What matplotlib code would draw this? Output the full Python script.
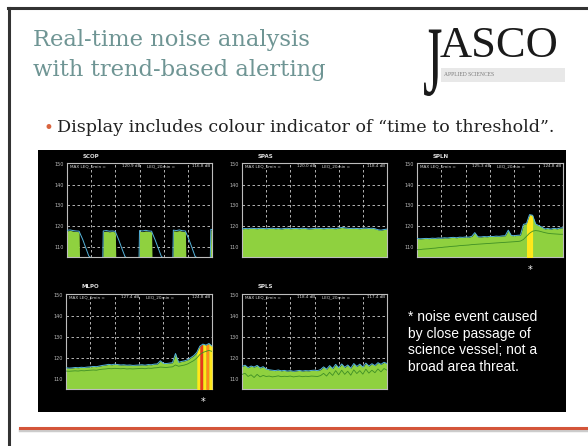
import matplotlib
matplotlib.use("Agg")
import matplotlib.pyplot as plt
import numpy as np
from matplotlib.patches import Rectangle, PathPatch
from matplotlib.lines import Line2D
from matplotlib.textpath import TextPath
from matplotlib.font_manager import FontProperties
from matplotlib.transforms import Affine2D

# ---- data (dB re 1 uPa) ----
hours = np.arange(49) * 0.5          # 0 .. 24 h in half-hour steps

scop_t = [0.0, 0.5, 1.0, 1.5, 2.0, 2.1, 2.6, 3.1, 3.6, 5.9,
          6.0, 6.5, 7.0, 7.5, 8.0, 8.1, 8.6, 9.1, 9.6, 11.9,
          12.0, 12.5, 13.0, 13.5, 14.0, 14.1, 14.6, 15.1, 15.6, 17.5,
          17.6, 18.1, 18.6, 19.1, 19.6, 19.7, 20.2, 20.7, 21.2, 23.7,
          23.8, 24.0]
scop_lvl = [117.6, 117.9, 117.5, 117.4, 117.2, 100, 100, 100, 100, 100,
            117.3, 117.5, 117.2, 117.4, 117.1, 100, 100, 100, 100, 100,
            117.5, 117.3, 117.6, 117.4, 117.2, 100, 100, 100, 100, 100,
            117.7, 117.5, 117.8, 117.4, 117.3, 100, 100, 100, 100, 100,
            118.2, 118.0]
scop_tail = [117.9, 118.1, 117.8, 117.6, 117.5, 116.8, 113.5, 109.5, 105.5, 100,
             117.6, 117.8, 117.5, 117.6, 117.4, 116.6, 113.0, 109.0, 105.2, 100,
             117.8, 117.6, 117.9, 117.6, 117.5, 116.7, 113.2, 109.3, 105.4, 100,
             118.0, 117.8, 118.1, 117.7, 117.6, 116.8, 113.4, 109.4, 105.3, 100,
             118.4, 118.3]

spas_lvl = [118.6, 118.8, 118.7, 118.9, 118.8, 118.7, 118.9, 118.8, 118.7, 118.8,
            118.9, 118.7, 118.8, 118.6, 118.8, 118.9, 118.7, 118.8, 118.8, 118.7,
            118.9, 118.8, 118.6, 118.7, 118.8, 118.9, 118.8, 118.7, 118.8, 118.9,
            118.8, 118.7, 119.0, 119.3, 119.1, 118.9, 118.8, 118.9, 118.8, 118.7,
            118.9, 119.0, 118.8, 118.9, 118.7, 118.2, 118.0, 118.3, 118.5]

spln_lvl = [114.0, 113.8, 113.9, 114.0, 113.9, 114.1, 114.0, 114.2, 114.1, 114.3,
            114.2, 114.4, 114.5, 114.3, 114.6, 114.5, 114.7, 114.6, 115.0, 116.8,
            114.8, 114.7, 114.9, 114.8, 115.0, 114.9, 115.1, 115.0, 115.2, 115.3,
            118.0, 115.4, 115.3, 115.5, 115.6, 120.8, 121.2, 125.5, 125.2, 121.0,
            120.2, 119.5, 118.6, 118.8, 118.5, 118.9, 118.6, 119.0, 119.2]
spln_trend = [108.5, 108.6, 108.8, 108.9, 109.0, 109.2, 109.3, 109.5, 109.6, 109.8,
              109.9, 110.1, 110.2, 110.3, 110.5, 110.6, 110.7, 110.8, 111.0, 111.1,
              111.2, 111.3, 111.4, 111.5, 111.6, 111.7, 111.8, 111.9, 112.0, 112.1,
              112.2, 112.3, 112.4, 112.5, 112.7, 113.5, 115.0, 116.5, 117.5, 117.8,
              117.6, 117.2, 116.8, 116.5, 116.3, 116.2, 116.1, 116.0, 116.0]
spln_alert = [0] * 36 + [1, 1] + [0] * 11     # 1 = yellow (time to threshold short)

mlpo_lvl = [115.2, 115.0, 115.1, 115.3, 115.2, 115.4, 115.3, 115.5, 115.6, 115.8,
            115.7, 116.0, 116.3, 116.5, 116.8, 116.6, 116.9, 116.7, 116.5, 116.6,
            116.4, 116.5, 116.3, 116.4, 116.5, 116.6, 116.4, 116.7, 116.6, 116.9,
            117.0, 118.5, 117.3, 117.2, 117.4, 117.6, 122.0, 117.8, 118.2, 118.5,
            119.0, 120.0, 121.0, 122.5, 125.5, 126.5, 126.0, 126.8, 125.5]
mlpo_trend = [113.6, 113.5, 113.6, 113.7, 113.6, 113.8, 113.7, 113.9, 114.0, 114.1,
              114.0, 114.3, 114.5, 114.6, 114.8, 114.7, 114.9, 114.8, 114.7, 114.8,
              114.6, 114.7, 114.6, 114.7, 114.8, 114.9, 114.7, 115.0, 114.9, 115.1,
              115.2, 115.5, 115.4, 115.3, 115.5, 115.6, 116.5, 115.9, 116.2, 116.5,
              117.0, 117.8, 118.6, 119.8, 121.5, 122.5, 123.0, 123.5, 123.0]
mlpo_alert = [0] * 43 + [1, 3, 1, 2, 1] + [0]

spls_lvl = [115.8, 116.4, 115.2, 116.0, 115.5, 116.3, 115.1, 115.7, 114.6, 114.2,
            114.0, 113.8, 114.1, 113.7, 113.9, 113.6, 113.8, 113.5, 113.7, 113.9,
            113.6, 113.8, 113.7, 113.9, 114.0, 113.8, 114.3, 115.6, 114.5, 116.2,
            114.8, 116.8, 115.2, 117.0, 115.4, 116.5, 115.0, 117.2, 115.8, 116.9,
            115.5, 117.4, 116.0, 117.1, 116.2, 117.6, 116.8, 117.8, 117.2]
spls_trend = [112.0, 112.5, 111.0, 111.8, 110.5, 112.0, 110.8, 111.5, 111.0, 111.2,
              110.8, 111.0, 111.3, 110.9, 111.1, 111.0, 111.2, 110.8, 111.0, 111.2,
              110.9, 111.1, 111.0, 111.2, 111.1, 111.0, 111.4, 112.5, 111.2, 113.0,
              111.5, 113.8, 111.8, 114.0, 112.0, 113.5, 111.6, 114.2, 112.4, 113.8,
              112.1, 114.5, 112.6, 114.0, 112.8, 114.6, 113.2, 114.8, 114.0]

# header readouts (MAX LEQ_1min, LEQ_20min)
headers = {"SCOP": ("120.9 dB", "116.8 dB"), "SPAS": ("120.0 dB", "118.4 dB"),
           "SPLN": ("125.3 dB", "124.8 dB"), "MLPO": ("127.4 dB", "124.8 dB"),
           "SPLS": ("118.4 dB", "117.4 dB")}
events = {"SPLN": 18.6, "MLPO": 22.6}   # '*' noise event marks

W, H = 588, 446
GREEN = "#8fd13f"
ALERT_COL = {1: "#ffe81a", 2: "#ff8c1a", 3: "#e8381c"}


def box(x0, y0, x1, y1):
    return [x0 / W, 1 - y1 / H, (x1 - x0) / W, (y1 - y0) / H]


fig = plt.figure(figsize=(W / 100, H / 100), dpi=100)
fig.patch.set_facecolor("white")

# slide frame
fig.add_artist(Line2D([8 / W, 1], [1 - 8 / H] * 2, color="#333333", lw=2.2))
fig.add_artist(Line2D([9 / W] * 2, [0, 1 - 8 / H], color="#333333", lw=2.2))
fig.add_artist(Line2D([20 / W, 1], [1 - 430 / H] * 2, color="#cccccc", lw=2.5))
fig.add_artist(Line2D([20 / W, 1], [1 - 428 / H] * 2, color="#d4553a", lw=2.2))

# title
fig.text(33 / W, 1 - 40 / H, "Real-time noise analysis", family="DejaVu Serif",
         fontsize=16.3, color="#6f9594", va="center")
fig.text(33 / W, 1 - 70 / H, "with trend-based alerting", family="DejaVu Serif",
         fontsize=16.3, color="#6f9594", va="center")

# logo: tall narrow J + ASCO + strap line
fig.add_artist(Rectangle((441 / W, 1 - 82 / H), 124 / W, 14 / H,
                         transform=fig.transFigure, color="#e8e8e8", lw=0))
jpath = TextPath((0, 0), "J", size=100, prop=FontProperties(family="Liberation Serif"))
jtrans = Affine2D().scale(0.5, 1.0).translate(423, H - 95)
fig.add_artist(PathPatch(jpath, transform=jtrans, color="#1a1a1a", lw=0))
fig.text(440 / W, 1 - 46 / H, "ASCO", family="Liberation Serif", fontsize=32,
         color="#1a1a1a", va="center")
fig.text(444 / W, 1 - 75 / H, "APPLIED SCIENCES", family="Liberation Serif",
         fontsize=4, color="#777777", va="center")

# bullet
fig.text(44 / W, 1 - 128 / H, "\u2022", fontsize=12, color="#d9643f", va="center")
fig.text(57 / W, 1 - 128 / H, "Display includes colour indicator of \u201ctime to threshold\u201d.",
         family="DejaVu Serif", fontsize=12.6, color="#222222", va="center")

# black screenshot area
fig.add_artist(Rectangle((38 / W, 1 - 412 / H), 528 / W, 262 / H,
                         transform=fig.transFigure, color="black", lw=0, zorder=-5))


def panel(rect, name, t, lvl, line, inner=None, alert=None):
    ax = fig.add_axes(box(*rect))
    ax.set_facecolor("black")
    ax.set_xlim(0, 24)
    ax.set_ylim(105, 150.5)
    for v in [110, 120, 130, 140]:
        ax.axhline(v, color="#cfcfcf", lw=0.6, ls=(0, (3, 3)), zorder=1)
    for v in [4, 8, 12, 16, 20]:
        ax.axvline(v, color="#cfcfcf", lw=0.6, ls=(0, (3, 3)), zorder=1)
    ax.fill_between(t, 100, lvl, color=GREEN, lw=0, zorder=2)
    if alert is not None:
        for i in range(len(t) - 1):
            if alert[i]:
                ax.fill_between(t[i:i + 2], 100, lvl[i:i + 2],
                                color=ALERT_COL[alert[i]], lw=0, zorder=3)
    ax.plot(t, line, color="#55b4dc", lw=0.7, zorder=4)
    if inner is not None:
        ax.plot(t, inner, color="#3f8f25", lw=0.6, zorder=4)
    ax.set_yticks([110, 120, 130, 140, 150])
    ax.set_xticks([])
    ax.tick_params(axis="y", length=0, labelsize=3.5, labelcolor="#bbbbbb", pad=2)
    for s in ax.spines.values():
        s.set_color("#bdbdbd")
        s.set_linewidth(0.8)
    hy = 0.965
    kw = dict(transform=ax.transAxes, fontsize=3, color="#dddddd", va="center")
    ax.text(0.02, hy, "MAX LEQ_1min =", **kw)
    ax.text(0.38, hy, headers[name][0], **kw)
    ax.text(0.55, hy, "LEQ_20min =", **kw)
    ax.text(0.86, hy, headers[name][1], **kw)
    fig.text((rect[0] + 16) / W, 1 - (rect[1] - 7) / H, name, fontsize=4,
             color="#dddddd", va="center", weight="bold")
    if name in events:
        ax.annotate("*", xy=(events[name], 0), xycoords=("data", "axes fraction"),
                    xytext=(0, -9), textcoords="offset points", ha="center",
                    va="center", color="white", fontsize=7, annotation_clip=False)
    return ax


panel((67, 163, 212, 257), "SCOP", scop_t, scop_lvl, scop_tail)
panel((242, 163, 387, 257), "SPAS", hours, spas_lvl, spas_lvl)
panel((417, 163, 563, 257), "SPLN", hours, spln_lvl, spln_lvl, spln_trend, spln_alert)
panel((66, 294, 212, 389), "MLPO", hours, mlpo_lvl, mlpo_lvl, mlpo_trend, mlpo_alert)
panel((242, 294, 387, 389), "SPLS", hours, spls_lvl, spls_lvl, spls_trend)

fig.text(408 / W, 1 - 342 / H,
         "* noise event caused\nby close passage of\nscience vessel; not a\nbroad area threat.",
         family="Liberation Sans", fontsize=10, color="white", va="center",
         linespacing=1.25)

fig.savefig("out.png", dpi=100, facecolor="white")
